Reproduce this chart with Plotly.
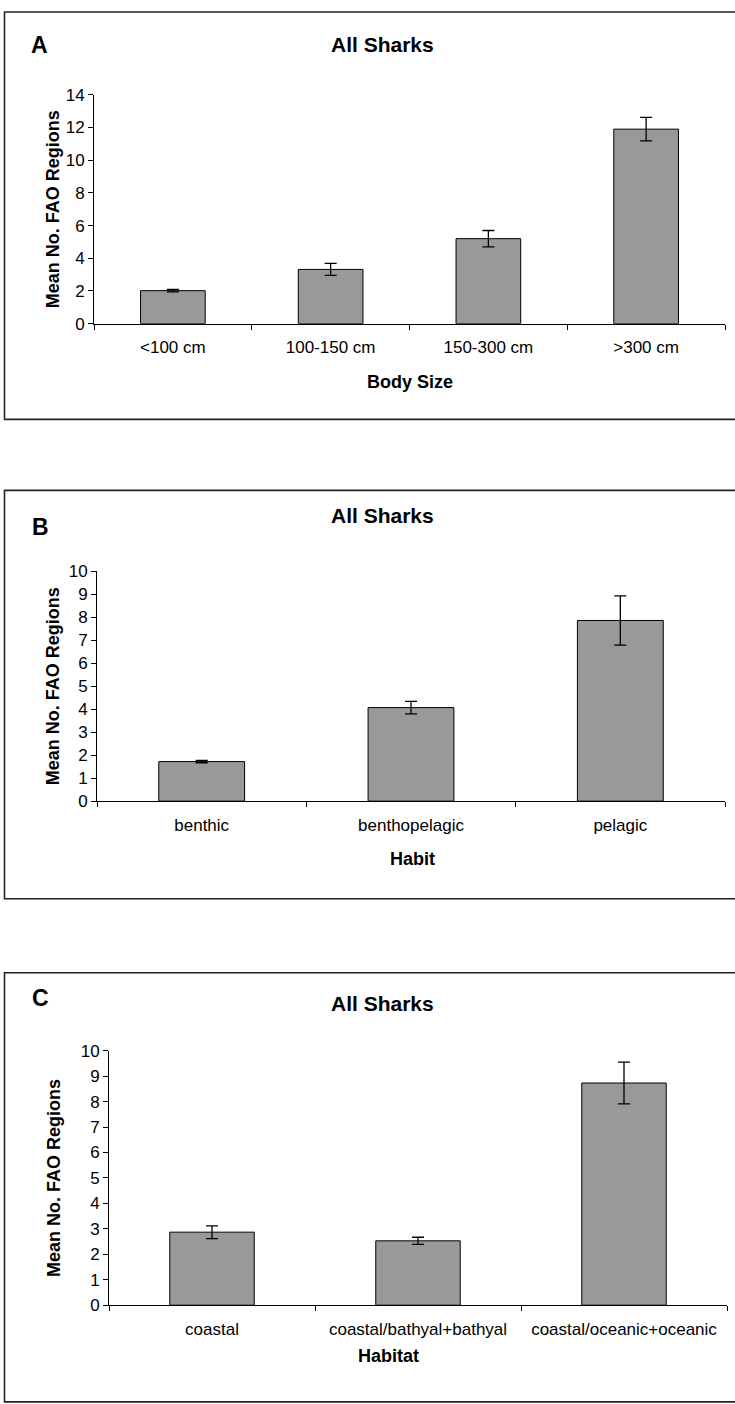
import plotly.graph_objects as go

W, H = 735, 1404

# ---- data ----
size_cats = ["<100 cm", "100-150 cm", "150-300 cm", ">300 cm"]
size_means = [2.02, 3.32, 5.2, 11.9]
size_errs = [0.07, 0.37, 0.5, 0.72]

habit_cats = ["benthic", "benthopelagic", "pelagic"]
habit_means = [1.72, 4.07, 7.86]
habit_errs = [0.05, 0.27, 1.07]

habitat_cats = ["coastal", "coastal/bathyal+bathyal", "coastal/oceanic+oceanic"]
habitat_means = [2.87, 2.53, 8.73]
habitat_errs = [0.25, 0.14, 0.82]

panel_letters = ["A", "B", "C"]
panel_titles = ["All Sharks", "All Sharks", "All Sharks"]
x_titles = ["Body Size", "Habit", "Habitat"]
y_title = "Mean No. FAO Regions"
y_ranges = [[0, 14], [0, 10], [0, 10]]
y_dticks = [2, 1, 1]

# ---- layout geometry (pixels) ----
geo = [
    dict(box=(4.5, 3, 416), px=(94, 725), py=(87, 319), letter=(39, 37), title=(382, 36),
         xtitle=(410, 378), ytitle_x=53),
    dict(box=(4.5, 488, 902), px=(97, 725), py=(570, 803), letter=(40, 525), title=(382, 513),
         xtitle=(412, 862), ytitle_x=53),
    dict(box=(4.5, 977, 1412), px=(109, 727), py=(1056, 1314), letter=(40, 1003), title=(382, 1008),
         xtitle=(388, 1365), ytitle_x=54),
]

FONT = "Arial, 'Liberation Sans', Helvetica, sans-serif"


def fx(p):
    return p / W


def fy(p):
    return 1 - p / H


data_sets = [
    (size_cats, size_means, size_errs),
    (habit_cats, habit_means, habit_errs),
    (habitat_cats, habitat_means, habitat_errs),
]

fig = go.Figure()
annotations = []
shapes = []
layout_axes = {}

for i, ((cats, means, errs), g) in enumerate(zip(data_sets, geo)):
    n = i + 1
    xa = "x" if n == 1 else f"x{n}"
    ya = "y" if n == 1 else f"y{n}"
    fig.add_trace(go.Bar(
        x=cats, y=means,
        error_y=dict(type="data", array=errs, visible=True, color="black",
                     thickness=1.3, width=6),
        marker=dict(color="#999999", line=dict(color="black", width=1)),
        width=0.41,
        xaxis=xa, yaxis=ya,
        showlegend=False, hoverinfo="skip",
    ))
    xkey = "xaxis" if n == 1 else f"xaxis{n}"
    ykey = "yaxis" if n == 1 else f"yaxis{n}"
    layout_axes[xkey] = dict(
        domain=[fx(g["px"][0]), fx(g["px"][1])], anchor=ya,
        type="category", range=[-0.5, len(cats) - 0.5],
        showline=True, linecolor="black", linewidth=1,
        ticks="outside", tickson="boundaries", ticklen=5, tickcolor="black", tickwidth=1,
        ticklabelstandoff=8,
        tickfont=dict(family=FONT, size=17, color="black"),
        showgrid=False, zeroline=False, fixedrange=True,
    )
    layout_axes[ykey] = dict(
        domain=[fy(g["py"][1]), fy(g["py"][0])], anchor=xa,
        range=y_ranges[i], dtick=y_dticks[i], tick0=0,
        showline=True, linecolor="black", linewidth=1,
        ticks="outside", ticklen=5, tickcolor="black", tickwidth=1,
        tickfont=dict(family=FONT, size=17, color="black"),
        showgrid=False, zeroline=False, fixedrange=True,
    )
    # panel frame
    bx0, by0, by1 = g["box"]
    shapes.append(dict(type="rect", xref="paper", yref="paper",
                       x0=fx(bx0), x1=1.02, y0=fy(by1), y1=fy(by0),
                       line=dict(color="#222222", width=1.6), fillcolor="rgba(0,0,0,0)",
                       layer="below"))
    annotations.append(dict(text=f"<b>{panel_letters[i]}</b>", xref="paper", yref="paper",
                            x=fx(g["letter"][0]), y=fy(g["letter"][1]),
                            xanchor="center", yanchor="middle", showarrow=False,
                            font=dict(family=FONT, size=23, color="black")))
    annotations.append(dict(text=f"<b>{panel_titles[i]}</b>", xref="paper", yref="paper",
                            x=fx(g["title"][0]), y=fy(g["title"][1]),
                            xanchor="center", yanchor="middle", showarrow=False,
                            font=dict(family=FONT, size=21, color="black")))
    annotations.append(dict(text=f"<b>{x_titles[i]}</b>", xref="paper", yref="paper",
                            x=fx(g["xtitle"][0]), y=fy(g["xtitle"][1]),
                            xanchor="center", yanchor="middle", showarrow=False,
                            font=dict(family=FONT, size=18, color="black")))
    annotations.append(dict(text=f"<b>{y_title}</b>", xref="paper", yref="paper",
                            x=fx(g["ytitle_x"]), y=fy((g["py"][0] + g["py"][1]) / 2),
                            xanchor="center", yanchor="middle", showarrow=False, textangle=-90,
                            font=dict(family=FONT, size=18, color="black")))

fig.update_layout(
    width=W, height=H,
    margin=dict(l=0, r=0, t=0, b=0),
    paper_bgcolor="white", plot_bgcolor="white",
    showlegend=False, hovermode=False,
    annotations=annotations, shapes=shapes,
    **layout_axes,
)

fig.write_html("out.html", config={"displayModeBar": False})
